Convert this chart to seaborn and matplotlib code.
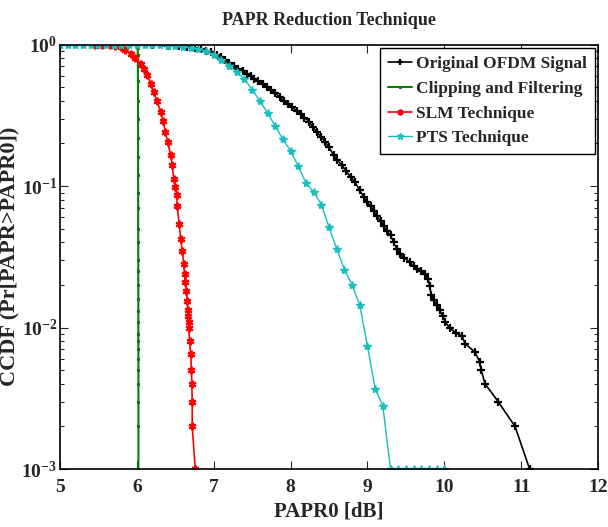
import numpy as np
import pandas as pd
import matplotlib
matplotlib.use("Agg")
import matplotlib.pyplot as plt
from matplotlib.ticker import FuncFormatter, LogLocator, NullFormatter
import seaborn as sns

# ---------------- data ----------------
orig_x = [5.50, 5.80, 6.00, 6.20, 6.40, 6.55, 6.65, 6.75, 6.83, 6.90, 6.97, 7.04,
          7.10, 7.15, 7.20, 7.26, 7.32, 7.38, 7.43, 7.48, 7.53, 7.58, 7.64, 7.69,
          7.75, 7.80, 7.86, 7.91, 7.97, 8.02, 8.08, 8.13, 8.18, 8.24, 8.29, 8.34,
          8.40, 8.45, 8.50, 8.56, 8.61, 8.67, 8.72, 8.78, 8.84, 8.90, 8.95, 8.99,
          9.04, 9.08, 9.12, 9.17, 9.21, 9.25, 9.30, 9.34, 9.38, 9.42, 9.48, 9.55,
          9.60, 9.64, 9.70, 9.75, 9.79, 9.81, 9.83, 9.86, 9.90, 9.94, 9.98, 10.01,
          10.07, 10.15, 10.23, 10.27, 10.40, 10.46, 10.48, 10.53, 10.70, 10.92, 11.11]
orig_y = [1.0, 1.0, 0.998, 0.993, 0.982, 0.970, 0.960, 0.945, 0.925, 0.905, 0.880, 0.845,
          0.810, 0.780, 0.745, 0.705, 0.675, 0.645, 0.620, 0.597, 0.575, 0.552, 0.525, 0.500,
          0.476, 0.452, 0.425, 0.400, 0.378, 0.360, 0.340, 0.324, 0.305, 0.285, 0.262, 0.240,
          0.222, 0.205, 0.188, 0.165, 0.152, 0.140, 0.128, 0.116, 0.106, 0.093, 0.084, 0.077,
          0.072, 0.067, 0.061, 0.057, 0.052, 0.048, 0.045, 0.040, 0.036, 0.033, 0.031, 0.029,
          0.027, 0.026, 0.025, 0.024, 0.022, 0.0195, 0.017, 0.0156, 0.0145, 0.0133, 0.012, 0.011,
          0.0099, 0.0092, 0.0087, 0.0077, 0.0067, 0.0057, 0.005, 0.004, 0.003, 0.002, 0.001]

clip_x = [5.50, 5.70, 5.90, 6.00, 6.01, 6.012, 6.013, 6.014, 6.015, 6.015, 6.016, 6.016,
          6.016, 6.017, 6.017, 6.017, 6.018, 6.018, 6.018, 6.018, 6.019, 6.019, 6.019,
          6.019, 6.019, 6.020, 6.020, 6.020, 6.020, 6.020, 6.020, 6.020]
clip_y = [1.0, 1.0, 1.0, 1.0, 0.95, 0.85, 0.70, 0.55, 0.40, 0.30, 0.22, 0.16,
          0.12, 0.09, 0.07, 0.05, 0.04, 0.03, 0.025, 0.02, 0.016, 0.013, 0.011,
          0.009, 0.008, 0.007, 0.006, 0.005, 0.004, 0.003, 0.002, 0.001]

slm_x = [5.45, 5.55, 5.65, 5.72, 5.79, 5.85, 5.92, 5.98, 6.05, 6.09, 6.135, 6.18,
         6.22, 6.26, 6.31, 6.34, 6.37, 6.40, 6.44, 6.46, 6.48, 6.50, 6.52, 6.525,
         6.55, 6.57, 6.59, 6.61, 6.62, 6.63, 6.645, 6.655, 6.66, 6.667, 6.672, 6.675,
         6.685, 6.70, 6.71, 6.715, 6.72, 6.72, 6.76]
slm_y = [1.0, 0.995, 0.99, 0.98, 0.96, 0.92, 0.86, 0.80, 0.73, 0.67, 0.61, 0.53,
         0.46, 0.40, 0.335, 0.29, 0.242, 0.205, 0.166, 0.14, 0.113, 0.098, 0.086, 0.072,
         0.054, 0.042, 0.035, 0.028, 0.024, 0.021, 0.018, 0.0155, 0.0133, 0.012, 0.011, 0.010,
         0.008, 0.0065, 0.005, 0.004, 0.003, 0.002, 0.001]

pts_x = [5.0, 5.1, 5.2, 5.3, 5.4, 5.5, 5.6, 5.7, 5.8, 5.9, 6.0, 6.1, 6.2, 6.3, 6.4,
         6.5, 6.6, 6.7, 6.8, 6.9, 7.0, 7.1, 7.2, 7.3, 7.4, 7.5, 7.6, 7.7, 7.8, 7.9,
         8.0, 8.1, 8.2, 8.3, 8.4, 8.5, 8.6, 8.7, 8.8, 8.9, 9.0, 9.1, 9.2, 9.3, 9.4,
         9.5, 9.6, 9.7, 9.8, 9.9, 10.0]
pts_y = [1.0, 1.0, 1.0, 1.0, 1.0, 1.0, 1.0, 1.0, 1.0, 1.0, 1.0, 0.998, 0.995, 0.99, 0.98,
         0.97, 0.96, 0.95, 0.93, 0.90, 0.85, 0.78, 0.71, 0.64, 0.57, 0.48, 0.40, 0.33, 0.265, 0.214,
         0.177, 0.138, 0.105, 0.091, 0.074, 0.051, 0.036, 0.0257, 0.020, 0.0144, 0.0074, 0.0037, 0.0028, 0.001, 0.001,
         0.001, 0.001, 0.001, 0.001, 0.001, 0.001]

labels = ["Original OFDM Signal", "Clipping and Filtering", "SLM Technique", "PTS Technique"]
x_ticks = [5, 6, 7, 8, 9, 10, 11, 12]

# ---------------- style ----------------
sns.set_theme(style="ticks")
plt.rcParams["font.family"] = ["Liberation Serif", "DejaVu Serif"]
plt.rcParams["font.weight"] = "bold"
plt.rcParams["mathtext.fontset"] = "custom"
plt.rcParams["mathtext.bf"] = "Liberation Serif:bold"
plt.rcParams["mathtext.rm"] = "Liberation Serif:bold"

fig = plt.figure(figsize=(6.08, 5.27), dpi=100)
ax = fig.add_axes([0.0987, 0.110, 0.8849, 0.8055])

series = [
    (orig_x, orig_y, labels[0], "black", "+", 5.5, 1.2, 1.6),
    (clip_x, clip_y, labels[1], "#008000", "s", 2.0, 1.5, 0.8),
    (slm_x, slm_y, labels[2], "#FF0000", (6, 2, 0), 5.5, 1.2, 1.6),
    (pts_x, pts_y, labels[3], "#17BFBF", "*", 6, 1.0, 1.0),
]
for xs, ys, lab, col, mk, ms, lw, mew in series:
    df = pd.DataFrame({"x": xs, "y": ys})
    sns.lineplot(data=df, x="x", y="y", ax=ax, sort=False, estimator=None,
                 color=col, marker=mk, markersize=ms, linewidth=lw,
                 markeredgecolor=col, markerfacecolor=col, markeredgewidth=mew,
                 label=lab)

ax.set_yscale("log")
ax.set_xlim(5, 12)
ax.set_ylim(1e-3, 1)
ax.set_xticks(x_ticks)
ax.set_xticklabels([str(t) for t in x_ticks])
ax.yaxis.set_major_locator(LogLocator(base=10, numticks=10))
ax.yaxis.set_minor_locator(LogLocator(base=10, subs=np.arange(2, 10), numticks=10))
ax.yaxis.set_minor_formatter(NullFormatter())
ax.yaxis.set_major_formatter(FuncFormatter(lambda v, p: r"$\mathbf{10^{%d}}$" % round(np.log10(v))))

ax.tick_params(which="both", direction="in", top=True, right=True, labelsize=14, width=0.8)
ax.tick_params(axis="x", pad=7)
ax.tick_params(axis="y", pad=2)
ax.tick_params(which="major", length=6)
ax.tick_params(which="minor", length=3)
for lbl in ax.get_xticklabels():
    lbl.set_fontweight("bold")
for sp in ax.spines.values():
    sp.set_linewidth(1.2)
    sp.set_color("black")

ax.set_xlabel("PAPR0 [dB]", fontsize=15, fontweight="bold", labelpad=4)
ax.set_ylabel("CCDF (Pr[PAPR>PAPR0])", fontsize=16, fontweight="bold")
ax.yaxis.set_label_coords(-0.076, 0.5)
ax.set_title("PAPR Reduction Technique", fontsize=13, fontweight="bold", pad=14)

leg = ax.legend(loc="upper right", fontsize=12.5, frameon=True, fancybox=False,
                edgecolor="black", framealpha=1, borderaxespad=0.2, handlelength=1.4,
                handletextpad=0.2, borderpad=0.45, labelspacing=0.5, markerscale=0.75)
leg.get_frame().set_linewidth(1.0)
for t in leg.get_texts():
    t.set_fontweight("bold")

fig.savefig("out.png", dpi=100)
